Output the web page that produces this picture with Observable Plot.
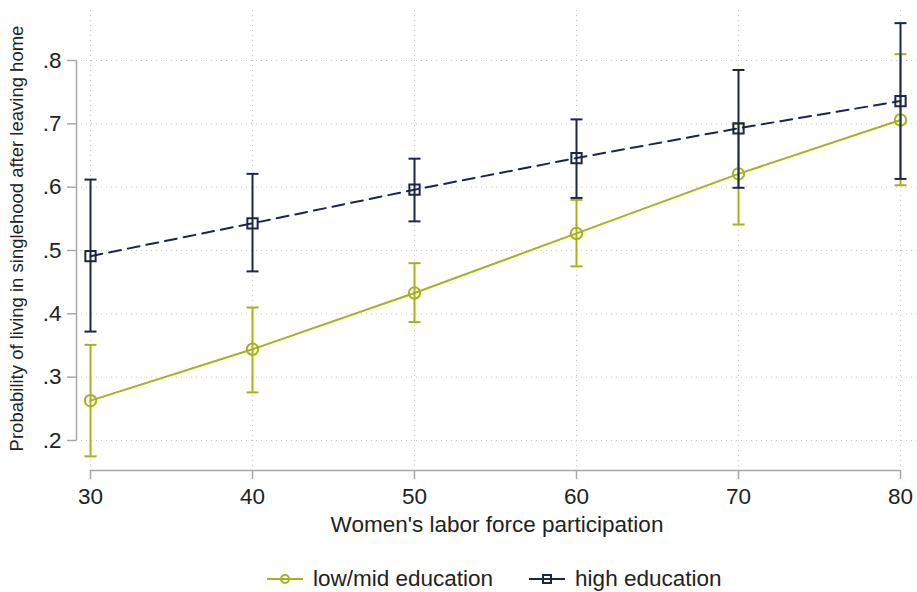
<!DOCTYPE html>
<html><head><meta charset="utf-8">
<script src="https://cdn.jsdelivr.net/npm/d3@7"></script>
<script src="https://cdn.jsdelivr.net/npm/@observablehq/plot@0.6"></script>
<style>
body{margin:0;background:#fff;font-family:"Liberation Sans",Arial,sans-serif;}
#chart{position:relative;width:917px;height:592px;overflow:hidden;}
#legend{position:absolute;left:267px;top:566px;display:flex;align-items:center;font-size:22.5px;line-height:26px;color:#222;}
.item{display:flex;align-items:center;margin-right:36px;}
.item svg{margin-right:10px;}
</style></head><body><div id="chart"></div>
<script>
const participation = [30, 40, 50, 60, 70, 80];
const lowEst = [0.263, 0.344, 0.433, 0.527, 0.621, 0.706];
const lowLo  = [0.175, 0.276, 0.387, 0.475, 0.541, 0.603];
const lowHi  = [0.351, 0.410, 0.480, 0.580, 0.700, 0.810];
const highEst = [0.491, 0.543, 0.596, 0.646, 0.693, 0.736];
const highLo  = [0.372, 0.467, 0.546, 0.583, 0.599, 0.613];
const highHi  = [0.612, 0.621, 0.645, 0.707, 0.785, 0.859];
const seriesNames = ["low/mid education", "high education"];
const colors = ["#a5b31b", "#1c2645"];
const yTicks = [0.2, 0.3, 0.4, 0.5, 0.6, 0.7, 0.8];
const xTitle = "Women's labor force participation";
const yTitle = "Probability of living in singlehood after leaving home";

const lowRows = participation.map((p, i) => ({x: p, est: lowEst[i], lo: lowLo[i], hi: lowHi[i]}));
const highRows = participation.map((p, i) => ({x: p, est: highEst[i], lo: highLo[i], hi: highHi[i]}));

const cap = {draw(ctx, size) { const w = Math.sqrt(size / Math.PI); ctx.moveTo(-w, 0); ctx.lineTo(w, 0); }};
const axisGray = "#a8a8a8";
const gridStyle = {stroke: "#c8c8c8", strokeOpacity: 1, strokeDasharray: "1,4", strokeWidth: 1};

function seriesMarks(rows, color, symbol, dash) {
  return [
    Plot.line(rows, {x: "x", y: "est", stroke: color, strokeWidth: 2, strokeDasharray: dash}),
    Plot.ruleX(rows, {x: "x", y1: "lo", y2: "hi", stroke: color, strokeWidth: 2}),
    Plot.dot(rows, {x: "x", y: "lo", symbol: cap, r: 6, stroke: color, strokeWidth: 2, fill: "none"}),
    Plot.dot(rows, {x: "x", y: "hi", symbol: cap, r: 6, stroke: color, strokeWidth: 2, fill: "none"}),
    Plot.dot(rows, {x: "x", y: "est", symbol, r: symbol === "square" ? 5.8 : 5.7, stroke: color, strokeWidth: 2, fill: "none"})
  ];
}

const plot = Plot.plot({
  width: 917, height: 545,
  marginLeft: 76, marginRight: 0, marginTop: 10, marginBottom: 75,
  style: {fontFamily: "'Liberation Sans', Arial, sans-serif", fontSize: "22.5px", color: "#222", background: "white"},
  x: {domain: [30, 80], range: [90, 900]},
  y: {domain: [0.2, 0.8], range: [440, 60]},
  marks: [
    Plot.gridX(participation, gridStyle),
    Plot.gridY(yTicks, gridStyle),
    Plot.ruleX([participation[0]], {y1: yTicks[0], y2: yTicks[yTicks.length - 1], dx: -14, stroke: axisGray, strokeWidth: 1.5}),
    Plot.ruleY([yTicks[0]], {x1: participation[0], x2: participation[participation.length - 1], dy: 30, stroke: axisGray, strokeWidth: 1.5}),
    Plot.axisY(yTicks, {tickSize: 9, tickPadding: 6, stroke: axisGray, strokeWidth: 1.5, fontSize: 22.5, label: null,
      tickFormat: d => d3.format(".1f")(d).replace(/^0/, "")}),
    Plot.axisX(participation, {tickSize: 9, tickPadding: 9, stroke: axisGray, strokeWidth: 1.5, fontSize: 22.5, label: null,
      tickFormat: d => String(d)}),
    Plot.text([yTitle], {frameAnchor: "left", textAnchor: "middle", lineAnchor: "middle", rotate: -90, dx: -59, dy: -2, fontSize: 18.5, fill: "#222"}),
    Plot.text([xTitle], {frameAnchor: "bottom", textAnchor: "middle", lineAnchor: "middle", dy: 54, fontSize: 22.5, fill: "#222"}),
    ...seriesMarks(lowRows, colors[0], "circle", null),
    ...seriesMarks(highRows, colors[1], "square", "12,7")
  ]
});
const chart = document.getElementById("chart");
chart.appendChild(plot);

const legend = document.createElement("div");
legend.id = "legend";
const symbols = ["circle", "square"];
seriesNames.forEach((name, i) => {
  const item = document.createElement("div");
  item.className = "item";
  const sym = symbols[i] === "circle"
    ? `<circle cx="18" cy="8" r="4" fill="none" stroke="${colors[i]}" stroke-width="2"/>`
    : `<rect x="14" y="4" width="8" height="8" fill="none" stroke="${colors[i]}" stroke-width="2"/>`;
  item.innerHTML = `<svg width="36" height="16"><line x1="0" x2="36" y1="8" y2="8" stroke="${colors[i]}" stroke-width="2"/>${sym}</svg><span>${name}</span>`;
  legend.appendChild(item);
});
chart.appendChild(legend);
</script>
</body></html>
